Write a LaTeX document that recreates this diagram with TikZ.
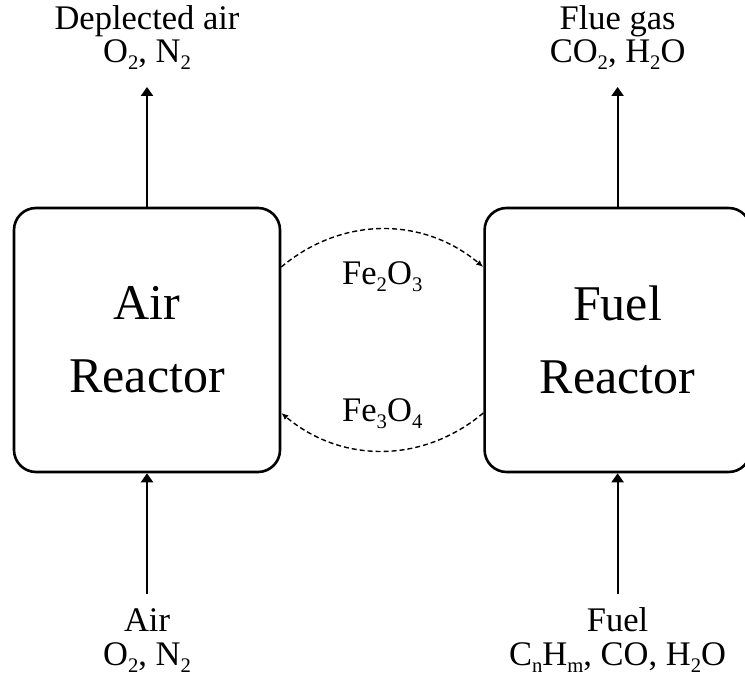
\documentclass[tikz,border=0pt]{standalone}
\usepackage{fontspec}
\setmainfont{Liberation Serif}
\usetikzlibrary{arrows.meta, positioning, calc}
\newcommand{\chsub}[1]{\raisebox{-0.2em}{\scalebox{0.6}{#1}}}

\begin{document}
\begin{tikzpicture}[
    x=1pt, y=1pt,
    node distance=202pt,
    reactor/.style={rectangle, draw, line width=2.6pt, rounded corners=22pt,
                    minimum width=266pt, minimum height=264pt, align=center,
                    font=\fontsize{50}{73}\selectfont},
    stream/.style={anchor=base, inner sep=0pt, font=\fontsize{34.5}{40}\selectfont},
    flow/.style={-{Triangle[length=9pt, width=12pt]}, line width=2.2pt},
    swap/.style={-{Latex[length=7pt, width=6pt]}, line width=1.4pt,
                 dash pattern=on 5pt off 3pt, bend left=40},
    oxide/.style={anchor=base, inner sep=0pt, font=\fontsize{34.5}{40}\selectfont}
]
\useasboundingbox (0,0) rectangle (745,680);

% Reactors
\node[reactor] (airR) at (147,340) {Air\\Reactor};
\node[reactor, right=of airR] (fuelR) {Fuel\\Reactor};

% Stream ends
\coordinate (airOut) at (147,593);
\coordinate (airIn) at (147,86);
\coordinate (fuelOut) at (fuelR.north |- airOut);
\coordinate (fuelIn) at (fuelR.south |- airIn);
\coordinate (gap) at ($(airR.east)!0.5!(fuelR.west)$);

% Stream labels
\node[stream] (deplTxt) at (147,650) {Deplected air};
\node[stream] (deplGas) at (147,617) {O\chsub{2}, N\chsub{2}};
\node[stream] (flueTxt) at (fuelR.center |- deplTxt.base) {Flue gas};
\node[stream] (flueGas) at (fuelR.center |- deplGas.base) {CO\chsub{2}, H\chsub{2}O};
\node[stream] (airTxt) at (147,48) {Air};
\node[stream] (airGas) at (147,14) {O\chsub{2}, N\chsub{2}};
\node[stream] (fuelTxt) at (fuelR.center |- airTxt.base) {Fuel};
\node[stream] (fuelGas) at (fuelR.center |- airGas.base) {C\chsub{n}H\chsub{m}, CO, H\chsub{2}O};

% Vertical flows
\draw[flow] (airR.north) -- (airOut);
\draw[flow] (fuelR.north) -- (fuelOut);
\draw[flow] (airIn) -- (airR.south);
\draw[flow] (fuelIn) -- (fuelR.south);

% Oxygen carrier loop
\draw[swap] ([yshift=73pt]airR.east) to ([yshift=73pt]fuelR.west);
\draw[swap] ([yshift=-73pt]fuelR.west) to ([yshift=-73pt]airR.east);
\node[oxide] (oxFull) at ([yshift=55pt]gap) {Fe\chsub{2}O\chsub{3}};
\node[oxide] (oxRed) at ([yshift=-82pt]gap) {Fe\chsub{3}O\chsub{4}};
\end{tikzpicture}
\end{document}
